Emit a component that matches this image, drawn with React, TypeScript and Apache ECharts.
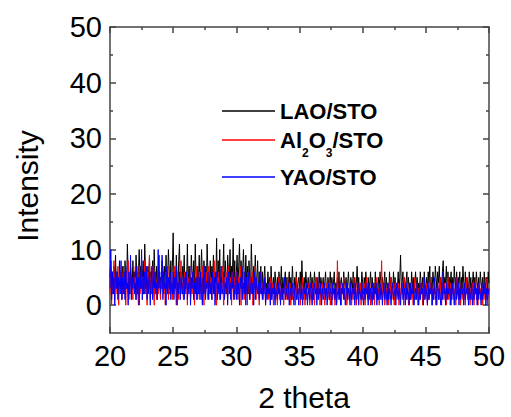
import React, { useEffect, useRef } from "react";
import * as echarts from "echarts";

const FONT = "'Liberation Sans', Arial, Helvetica, sans-serif";

const X_START = 20;
const X_STEP = 0.0625;

// one row = one degree of 2 theta (16 samples), last row is 50.0
const lao: number[] = [
  5,8,3,6,2,7,4,9,3,6,5,2,8,4,6,3,
  7,4,2,8,5,3,11,6,4,2,7,5,3,8,4,6,
  3,9,5,2,6,10,4,7,3,5,8,2,11,6,4,3,
  7,5,9,3,6,2,8,4,10,5,3,7,2,6,9,4,
  5,3,8,6,2,7,4,9,3,5,10,6,2,8,4,7,
  13,4,6,3,9,5,2,8,11,4,6,3,7,5,9,2,
  6,4,11,3,7,5,2,9,6,4,8,3,11,5,2,7,
  4,9,3,6,10,5,2,8,4,7,3,11,6,2,5,8,
  3,7,5,9,2,6,4,12,3,8,5,10,2,7,4,6,
  11,3,8,5,2,9,6,4,10,3,7,5,12,4,8,2,
  6,9,3,7,11,4,8,2,6,10,5,3,9,4,7,2,
  8,5,3,11,6,2,7,4,9,3,5,8,2,6,4,7,
  3,6,2,5,7,3,4,2,6,3,5,2,7,4,3,5,
  2,6,4,3,5,2,6,3,4,7,2,5,3,4,6,2,
  5,3,4,6,2,5,3,7,4,2,5,3,6,2,4,5,
  3,6,2,8,4,3,5,2,6,4,3,5,2,4,6,3,
  5,2,4,6,3,5,2,4,3,6,2,5,4,3,5,2,
  4,6,3,2,5,4,3,6,2,5,3,4,6,2,4,3,
  5,3,6,2,4,5,3,2,6,4,3,5,2,4,6,3,
  2,5,4,3,6,2,5,3,4,7,3,5,2,4,3,6,
  4,2,5,3,6,4,2,5,3,4,6,2,5,3,4,2,
  6,3,4,2,5,3,6,4,2,5,3,4,6,2,5,3,
  4,2,6,3,5,4,2,6,3,5,2,4,3,6,2,5,
  9,3,4,6,2,5,3,4,6,2,5,3,4,2,6,3,
  5,2,4,6,3,5,2,4,3,6,4,2,5,3,6,4,
  2,5,3,6,4,7,2,5,3,6,4,2,7,5,3,6,
  4,7,3,5,2,6,8,3,5,4,7,2,6,3,5,4,
  6,2,5,3,7,4,2,6,3,5,4,6,2,5,3,7,
  4,2,6,3,5,4,2,6,3,5,2,4,6,3,5,2,
  6,4,3,5,2,6,4,3,5,2,6,3,4,5,2,6,
  4,
];

const al2o3: number[] = [
  2,7,0,5,3,8,1,6,4,2,7,0,5,3,6,1,
  4,7,2,5,0,6,3,8,1,4,6,2,5,1,7,3,
  5,1,6,3,0,7,2,4,6,1,5,3,8,2,4,0,
  6,3,9,1,5,2,7,3,0,6,4,1,5,2,7,3,
  1,5,3,7,2,4,0,6,3,5,1,7,2,4,6,1,
  5,2,7,3,0,6,4,1,5,3,8,2,4,1,6,3,
  2,6,0,5,3,7,1,4,2,6,3,0,5,2,7,1,
  4,6,2,5,1,7,3,0,5,2,6,3,1,7,4,2,
  5,1,6,3,8,2,4,0,5,3,6,1,4,2,7,3,
  0,5,2,6,3,1,7,4,2,5,0,6,3,1,5,2,
  6,3,1,5,2,7,0,4,3,6,1,5,2,4,0,6,
  3,1,5,2,6,0,4,3,7,1,5,2,4,0,3,6,
  2,4,1,3,5,0,3,2,4,1,3,5,1,2,4,0,
  3,1,4,2,0,3,5,1,2,4,1,3,0,4,2,1,
  3,5,1,2,4,0,3,1,4,2,3,0,5,1,3,2,
  4,0,3,2,5,1,3,0,4,2,1,3,4,0,2,3,
  1,4,2,0,3,5,1,3,2,4,0,3,1,4,2,3,
  0,3,2,4,1,3,5,0,2,4,1,3,2,0,4,1,
  8,2,3,1,4,0,3,2,5,1,3,4,0,2,3,1,
  4,2,0,3,1,5,2,3,0,4,1,3,2,4,0,3,
  1,3,4,0,2,5,1,3,2,4,0,3,1,2,4,0,
  3,2,5,1,3,0,4,2,8,1,3,4,0,2,3,1,
  4,0,3,2,5,1,3,2,0,4,1,3,2,4,0,3,
  1,4,2,3,0,5,2,1,3,4,0,2,3,1,4,2,
  0,3,5,1,2,4,0,3,1,4,2,3,0,5,1,3,
  2,4,0,3,1,4,2,5,0,3,1,4,2,3,0,4,
  3,1,5,2,0,4,3,1,4,2,0,3,5,1,2,4,
  0,3,2,4,1,3,0,5,2,3,1,4,0,2,3,1,
  4,2,0,3,5,1,2,4,0,3,1,4,2,0,3,5,
  1,3,0,4,2,3,1,4,0,2,3,1,5,2,0,3,
  2,
];

const yao: number[] = [
  3,10,1,6,2,5,0,7,3,6,1,5,4,2,8,1,
  5,2,6,1,7,3,4,0,6,2,9,1,5,3,6,2,
  4,1,7,2,5,0,6,3,10,1,5,2,6,3,7,1,
  5,2,6,0,4,7,1,5,3,6,2,4,1,10,3,6,
  2,5,9,1,6,3,4,0,7,2,5,3,6,1,4,2,
  6,1,5,3,7,0,4,2,6,1,5,3,2,6,1,5,
  3,6,1,4,2,7,0,5,3,6,1,4,2,5,1,6,
  2,5,1,6,3,0,5,2,7,1,4,3,6,1,5,2,
  4,1,6,2,5,0,3,6,1,4,2,7,1,5,3,2,
  6,1,4,3,5,0,6,2,4,1,5,3,6,1,3,5,
  1,6,2,4,0,5,3,7,1,4,2,6,0,5,2,4,
  6,1,3,5,2,4,0,6,1,5,3,2,4,1,6,2,
  3,1,4,2,5,0,3,1,4,2,3,0,4,1,3,2,
  4,0,3,2,1,4,2,3,0,4,1,3,2,5,1,2,
  3,1,4,0,2,3,1,4,2,0,3,4,1,2,3,0,
  4,2,1,3,0,4,2,3,1,4,0,2,3,1,4,2,
  0,3,1,4,2,3,0,5,1,3,2,4,0,3,1,2,
  4,1,3,0,2,4,1,3,2,0,4,2,3,1,4,0,
  2,3,1,4,0,3,2,4,1,3,0,2,4,1,3,2,
  0,4,1,3,2,4,0,3,1,2,4,0,3,2,1,4,
  2,0,3,1,4,2,3,0,4,1,3,2,0,4,1,3,
  2,4,0,3,1,2,4,1,3,0,2,4,1,3,2,0,
  4,1,3,2,0,3,4,1,2,3,0,4,2,1,3,2,
  0,3,4,1,2,3,0,4,1,3,2,0,4,1,3,2,
  4,0,2,3,1,4,2,0,3,1,4,2,3,0,5,1,
  3,2,0,4,1,3,2,4,0,3,1,5,2,0,3,4,
  1,3,2,0,4,1,6,2,3,0,4,1,3,2,4,0,
  3,1,4,2,0,3,5,1,2,4,0,3,1,4,2,3,
  0,4,1,3,2,4,0,3,1,2,4,0,3,1,4,2,
  3,0,4,1,3,2,0,4,1,3,2,4,0,3,1,2,
  3,
];

const seriesNames = ["LAO/STO", "Al2O3/STO", "YAO/STO"];
const seriesColors = ["#000000", "#ff0000", "#0000ff"];
const seriesValues = [lao, al2o3, yao];

const xMajor = [20, 25, 30, 35, 40, 45, 50];
const xMinor = [22.5, 27.5, 32.5, 37.5, 42.5, 47.5];
const yMajor = [0, 10, 20, 30, 40, 50];
const yMinor = [5, 15, 25, 35, 45];

const AXIS_COLOR = "#444";

function App() {
  const ref = useRef<HTMLDivElement>(null);
  useEffect(() => {
    if (!ref.current) return;
    const chart = echarts.init(ref.current, null, { renderer: "svg" });
    const grid = { left: 110, right: 22, top: 27, bottom: 84 };
    const lineStyle = { color: AXIS_COLOR, width: 1.5 };
    const mkAxis = (range: [number, number]) => (gridIndex: number, position: string, vals: number[], len: number, major: boolean, labels: boolean) => ({
      type: "value",
      gridIndex,
      position,
      min: range[0],
      max: range[1],
      axisLine: { show: major, onZero: false, lineStyle },
      axisTick: { show: true, inside: true, length: len, customValues: vals, lineStyle },
      axisLabel: labels
        ? { show: true, customValues: vals, fontSize: 29, color: "#000", fontFamily: FONT, margin: 8 }
        : { show: false },
      splitLine: { show: false },
    });
    const mkX = mkAxis([20, 50]);
    const mkY = mkAxis([-5, 50]);
    const legendBase = {
      orient: "vertical",
      left: 222,
      itemWidth: 53,
      itemHeight: 1.5,
      icon: "rect",
      padding: 0,
      selectedMode: false,
      textStyle: { fontSize: 22, fontWeight: "bold", fontFamily: FONT, color: "#000", lineHeight: 22 },
    };
    chart.setOption({
      animation: false,
      grid: [grid, grid],
      xAxis: [
        mkX(0, "bottom", xMajor, 6, true, true),
        mkX(0, "top", xMajor, 6, true, false),
        mkX(1, "bottom", xMinor, 3, false, false),
        mkX(1, "top", xMinor, 3, false, false),
      ],
      yAxis: [
        mkY(0, "left", yMajor, 6, true, true),
        mkY(0, "right", yMajor, 6, true, false),
        mkY(1, "left", yMinor, 3, false, false),
        mkY(1, "right", yMinor, 3, false, false),
      ],
      legend: [
        { ...legendBase, data: [seriesNames[0]], top: 100 },
        {
          ...legendBase,
          data: [seriesNames[1]],
          top: 121,
          formatter: () => "{a|Al}{s|2}{a|O}{s|3}{a|/STO}",
          textStyle: {
            ...legendBase.textStyle,
            lineHeight: 38,
            rich: {
              a: { fontSize: 22, fontWeight: "bold", fontFamily: FONT, color: "#000", lineHeight: 38, verticalAlign: "middle" },
              s: { fontSize: 12, fontWeight: "bold", fontFamily: FONT, color: "#000", lineHeight: 38, verticalAlign: "bottom" },
            },
          },
        },
        { ...legendBase, data: [seriesNames[2]], top: 166 },
      ],
      series: seriesValues.map((vals, k) => ({
        name: seriesNames[k],
        type: "line",
        xAxisIndex: 0,
        yAxisIndex: 0,
        symbol: "none",
        showSymbol: false,
        color: seriesColors[k],
        lineStyle: { color: seriesColors[k], width: 1 },
        data: vals.map((v, i) => [X_START + i * X_STEP, v]),
      })),
      graphic: [
        {
          type: "text",
          x: 304,
          y: 397,
          style: { text: "2 theta", fontSize: 30, fontFamily: FONT, fill: "#000", align: "center", verticalAlign: "middle" },
        },
        {
          type: "text",
          x: 27,
          y: 186,
          rotation: Math.PI / 2,
          style: { text: "Intensity", fontSize: 30, fontFamily: FONT, fill: "#000", align: "center", verticalAlign: "middle" },
        },
      ],
    });
    return () => chart.dispose();
  }, []);
  return <div ref={ref} style={{ width: 511, height: 417, position: "absolute", left: 0, top: 0 }} />;
}

export default App;
